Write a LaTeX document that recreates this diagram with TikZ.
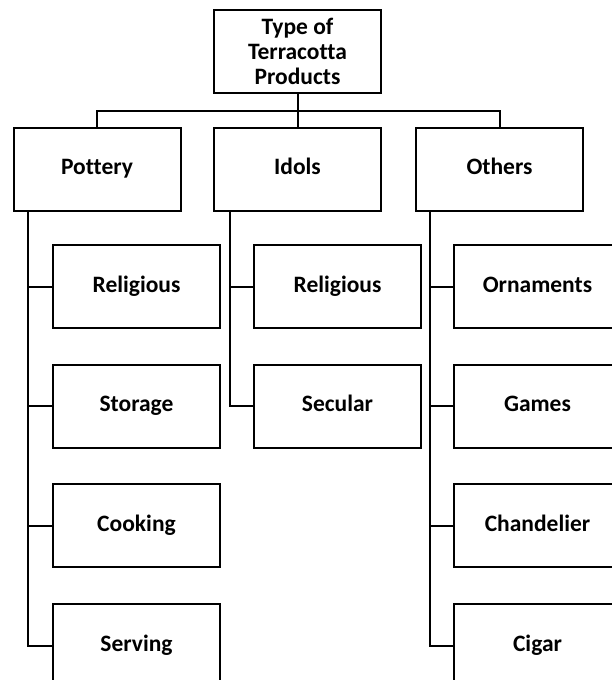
\documentclass[tikz,border=0pt]{standalone}
\usepackage{fontspec}
\setmainfont{Carlito}[Ligatures=NoCommon]
\usepackage{tikz}
\usetikzlibrary{positioning}

\tikzset{
  catbox/.style={draw, line width=2pt, minimum width=167pt, minimum height=83pt,
    inner sep=0pt, align=center, font=\fontsize{23.5}{25}\selectfont\bfseries},
  leafbox/.style={catbox, text height=16pt, text depth=5pt},
  link/.style={line width=2pt}
}

\begin{document}
\begin{tikzpicture}[x=1pt,y=-1pt]
\useasboundingbox (0,0) rectangle (611,680);
% top and first level
\node[catbox] (top) at (297.5,51) {Type of\\Terracotta\\Products};
\node[leafbox] (pottery) at (97,169) {Pottery};
\node[leafbox] (idols) at (297.5,169) {Idols};
\node[leafbox] (others) at (499.5,169) {Others};
\coordinate (bus) at ([yshift=-17pt]top.south);
\draw[link] (top) -- (idols);
\draw[link] (pottery.north) |- (bus) -| (others.north);
% pottery
\node[leafbox] (prelig) at (136.5,286.5) {Religious};
\node[leafbox, below=34.7pt of prelig] (pstor) {Storage};
\node[leafbox, below=34.7pt of pstor] (pcook) {Cooking};
\node[leafbox, below=34.7pt of pcook] (pserv) {Serving};
% idols
\node[leafbox] (irelig) at (337.5,286.5) {Religious};
\node[leafbox, below=34.7pt of irelig] (isec) {Secular};
% others
\node[leafbox] (oorn) at (537.5,286.5) {Ornaments};
\node[leafbox, below=34.7pt of oorn] (ogame) {Games};
\node[leafbox, below=34.7pt of ogame] (ochand) {Chandelier};
\node[leafbox, below=34.7pt of ochand] (ocigar) {Cigar};
% side rails
\coordinate (prail) at ([xshift=15pt]pottery.south west);
\coordinate (irail) at ([xshift=17pt]idols.south west);
\coordinate (orail) at ([xshift=15pt]others.south west);
\draw[link] (prail) |- (pserv.west);
\draw[link] (irail) |- (isec.west);
\draw[link] (orail) |- (ocigar.west);
\foreach \n in {prelig,pstor,pcook}
  \draw[link] (\n.west) -- (\n.west -| prail);
\draw[link] (irelig.west) -- (irelig.west -| irail);
\foreach \n in {oorn,ogame,ochand}
  \draw[link] (\n.west) -- (\n.west -| orail);
\end{tikzpicture}
\end{document}
